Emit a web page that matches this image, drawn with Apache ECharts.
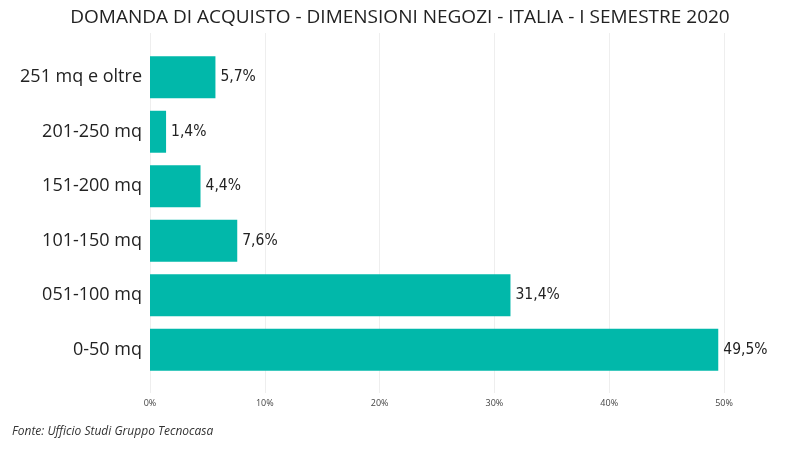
<!DOCTYPE html>
<html><head><meta charset="utf-8">
<script src="https://cdn.jsdelivr.net/npm/echarts@6/dist/echarts.min.js"></script>
<style>html,body{margin:0;padding:0;background:#fff}#c{width:800px;height:450px}</style>
</head><body><div id="c"></div>
<script>
const categories = ['0-50 mq','051-100 mq','101-150 mq','151-200 mq','201-250 mq','251 mq e oltre'];
const values = [49.5, 31.4, 7.6, 4.4, 1.4, 5.7];
const xTicks = [0, 10, 20, 30, 40, 50];
const chart = echarts.init(document.getElementById('c'));
chart.setOption({
  animation: false,
  title: [{
    text: 'DOMANDA DI ACQUISTO - DIMENSIONI NEGOZI - ITALIA - I SEMESTRE 2020',
    left: 'center', top: 3,
    textStyle: {fontFamily: 'Open Sans', fontWeight: 'normal', fontSize: 19, color: '#222'}
  }, {
    text: 'Fonte: Ufficio Studi Gruppo Tecnocasa',
    left: 7, top: 421,
    textStyle: {fontFamily: 'Open Sans', fontStyle: 'italic', fontWeight: 'normal', fontSize: 12, color: '#333'}
  }],
  grid: [
    {left: 150, right: 76, top: 50, bottom: 73, containLabel: false},
    {left: 150, right: 76, top: 33, bottom: 57, containLabel: false}
  ],
  xAxis: [{
    type: 'value', min: xTicks[0], max: xTicks[xTicks.length-1], interval: 10, gridIndex: 0,
    axisLine: {show: false}, axisTick: {show: false},
    splitLine: {show: false},
    axisLabel: {formatter: v => v + '%', fontFamily: 'Open Sans', fontSize: 9, color: '#444', margin: 22}
  }, {
    type: 'value', min: xTicks[0], max: xTicks[xTicks.length-1], interval: 10, gridIndex: 1,
    axisLine: {show: false}, axisTick: {show: false}, axisLabel: {show: false},
    splitLine: {lineStyle: {color: '#eeeeee'}}
  }],
  yAxis: [{
    type: 'category', data: categories, gridIndex: 0,
    axisLine: {show: false}, axisTick: {show: false},
    axisLabel: {fontFamily: 'Open Sans', fontSize: 18, color: '#222', margin: 8}
  }, {
    type: 'value', gridIndex: 1, show: false
  }],
  series: [{
    type: 'bar', data: values, barCategoryGap: '23%', z: 3,
    itemStyle: {color: '#01B8AA'},
    label: {show: true, position: 'right', distance: 5,
      formatter: p => p.value.toFixed(1).replace('.', ',') + '%',
      fontFamily: 'DejaVu Sans Condensed', fontSize: 15.5, color: '#222'}
  }]
});
</script></body></html>
